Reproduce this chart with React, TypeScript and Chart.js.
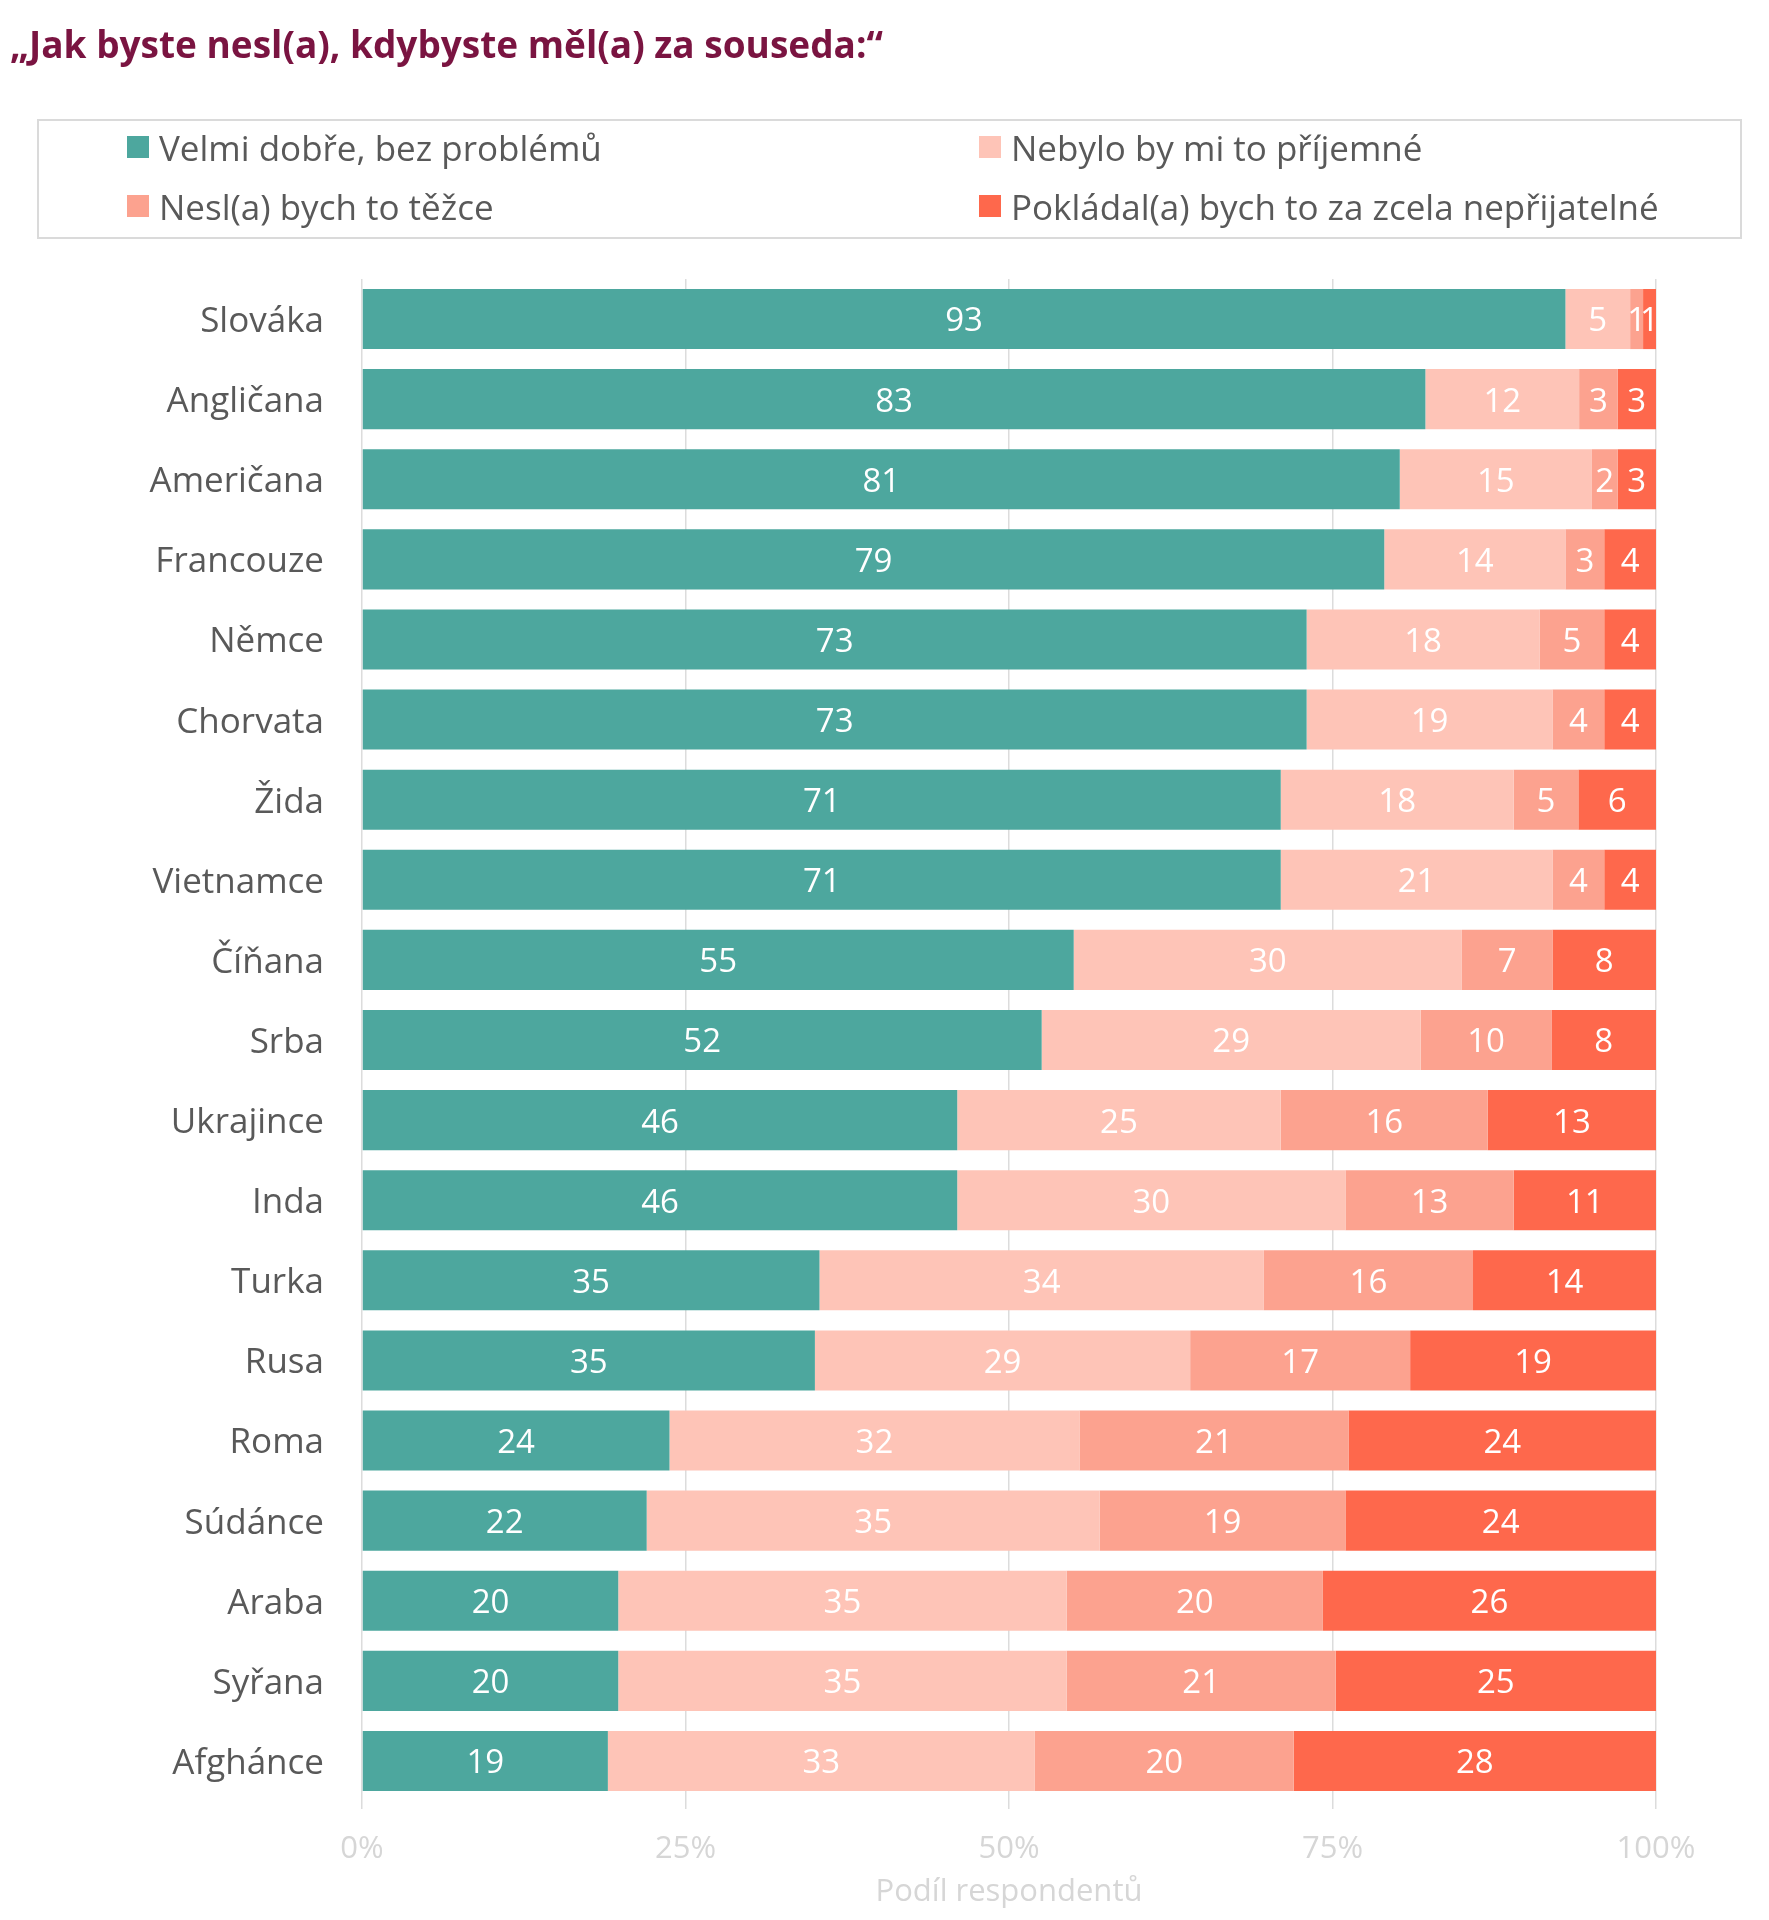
import React, { useEffect, useRef } from "react";
import { Chart, registerables } from "chart.js";

Chart.register(...registerables);

// Categories (nationality of the neighbour), top to bottom
const categories = [
  "Slováka", "Angličana", "Američana", "Francouze", "Němce", "Chorvata", "Žida",
  "Vietnamce", "Číňana", "Srba", "Ukrajince", "Inda", "Turka", "Rusa", "Roma",
  "Súdánce", "Araba", "Syřana", "Afghánce",
];

// Answer shares in percent, one array per answer
const velmiDobre = [93, 83, 81, 79, 73, 73, 71, 71, 55, 52, 46, 46, 35, 35, 24, 22, 20, 20, 19];
const nebyloPrijemne = [5, 12, 15, 14, 18, 19, 18, 21, 30, 29, 25, 30, 34, 29, 32, 35, 35, 35, 33];
const neslBychTezce = [1, 3, 2, 3, 5, 4, 5, 4, 7, 10, 16, 13, 16, 17, 21, 19, 20, 21, 20];
const nepřijatelne = [1, 3, 3, 4, 4, 4, 6, 4, 8, 8, 13, 11, 14, 19, 24, 24, 26, 25, 28];

const seriesLabels = [
  "Velmi dobře, bez problémů",
  "Nebylo by mi to příjemné",
  "Nesl(a) bych to těžce",
  "Pokládal(a) bych to za zcela nepřijatelné",
];

const xTicks = [0, 25, 50, 75, 100];

const COLORS = ["#4DA79E", "#FEC4B7", "#FCA28F", "#FE684C"];
const FONT = "'Open Sans', 'DejaVu Sans', sans-serif";

const rawSeries = [velmiDobre, nebyloPrijemne, neslBychTezce, nepřijatelne];
const totals = categories.map((_, i) => rawSeries.reduce((s, arr) => s + arr[i], 0));

// Writes each answer's value in the middle of its segment
const segmentLabels = {
  id: "segmentLabels",
  afterDatasetsDraw(chart: any) {
    const ctx = chart.ctx;
    ctx.save();
    ctx.font = `33px ${FONT}`;
    ctx.fillStyle = "#FFFFFF";
    ctx.textAlign = "center";
    ctx.textBaseline = "middle";
    chart.data.datasets.forEach((ds: any, di: number) => {
      const meta = chart.getDatasetMeta(di);
      meta.data.forEach((el: any, i: number) => {
        const raw = ds.rawValues[i];
        const cx = (el.x + el.base) / 2;
        ctx.fillText(String(raw), cx, el.y + 3);
      });
    });
    ctx.restore();
  },
};

function StackedChart() {
  const ref = useRef<HTMLCanvasElement | null>(null);

  useEffect(() => {
    if (!ref.current) return;
    const chart = new Chart(ref.current, {
      type: "bar",
      data: {
        labels: categories,
        datasets: rawSeries.map((arr, k) => ({
          label: seriesLabels[k],
          data: arr.map((v, i) => (v / totals[i]) * 100),
          rawValues: arr,
          backgroundColor: COLORS[k],
          borderWidth: 0,
          barPercentage: 0.75,
          categoryPercentage: 1,
        })) as any,
      },
      options: {
        indexAxis: "y",
        animation: false,
        responsive: false,
        maintainAspectRatio: false,
        layout: { padding: { top: 279, left: 0, right: 113, bottom: 0 } },
        plugins: {
          legend: { display: false },
          title: { display: false },
          tooltip: { enabled: false },
        },
        scales: {
          x: {
            stacked: true,
            min: 0,
            max: 100,
            afterFit: (s: any) => { s.height = 119; },
            afterBuildTicks: (s: any) => { s.ticks = xTicks.map((v) => ({ value: v })); },
            grid: { color: "#DCDCDC", lineWidth: 1.5, tickLength: 8, drawTicks: true },
            border: { display: false },
            ticks: {
              color: "#D6D6D6",
              font: { family: FONT, size: 31 },
              padding: 22,
              callback: (v: any) => `${v}%`,
            },
            title: {
              display: true,
              text: "Podíl respondentů",
              color: "#D6D6D6",
              font: { family: FONT, size: 31 },
              padding: { top: 0, bottom: 9 },
            },
          },
          y: {
            stacked: true,
            afterFit: (s: any) => { s.width = 362; },
            grid: { display: false, drawTicks: false },
            border: { display: false },
            ticks: {
              color: "#595959",
              font: { family: FONT, size: 35 },
              padding: 38,
              labelOffset: 3,
            },
          },
        },
      },
      plugins: [segmentLabels],
    });
    return () => chart.destroy();
  }, []);

  return <canvas ref={ref} width={1769} height={1920} style={{ display: "block" }} />;
}

function LegendItem({ color, text, left, top }: { color: string; text: string; left: number; top: number }) {
  return (
    <div style={{ position: "absolute", left, top, height: 44, display: "flex", alignItems: "center" }}>
      <span style={{ width: 22, height: 22, background: color, display: "inline-block", marginRight: 10 }} />
      <span style={{ fontFamily: FONT, fontSize: 35, color: "#595959", whiteSpace: "nowrap" }}>{text}</span>
    </div>
  );
}

export default function App() {
  return (
    <div style={{ position: "absolute", left: 0, top: 0, width: 1769, height: 1920, background: "#fff" }}>
      <StackedChart />
      <div
        style={{
          position: "absolute", left: 10, top: 22, height: 44, lineHeight: "44px",
          fontFamily: FONT, fontWeight: 700, fontSize: 37, color: "#7A1441", whiteSpace: "nowrap",
        }}
      >
        „Jak byste nesl(a), kdybyste měl(a) za souseda:“
      </div>
      <div
        style={{
          position: "absolute", left: 37, top: 119, width: 1705, height: 120,
          border: "2px solid #DADADA", boxSizing: "border-box",
        }}
      >
        <LegendItem color={COLORS[0]} text={seriesLabels[0]} left={88} top={4} />
        <LegendItem color={COLORS[2]} text={seriesLabels[2]} left={88} top={63} />
        <LegendItem color={COLORS[1]} text={seriesLabels[1]} left={940} top={4} />
        <LegendItem color={COLORS[3]} text={seriesLabels[3]} left={940} top={63} />
      </div>
    </div>
  );
}
